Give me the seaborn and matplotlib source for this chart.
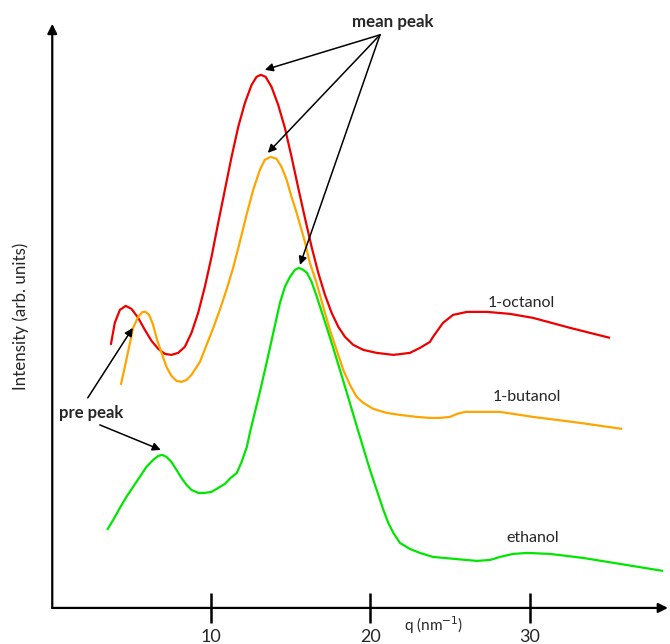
import numpy as np
import pandas as pd
import matplotlib
matplotlib.use("Agg")
import matplotlib.pyplot as plt
import seaborn as sns

# ---- data ----
q_octanol = [3.68, 3.93, 4.25, 4.62, 4.98, 5.40, 5.82, 6.24, 6.66, 7.08, 7.49, 7.91, 8.33,
             8.75, 9.17, 9.59, 10.01, 10.43, 10.85, 11.27, 11.69, 12.11, 12.53, 12.84,
             13.11, 13.41, 13.78, 14.20, 14.62, 15.04, 15.46, 15.88, 16.30, 16.72, 17.14,
             17.56, 17.98, 18.40, 18.92, 19.55, 20.39, 21.44, 22.48, 23.11, 23.74, 23.93,
             24.56, 25.19, 26.07, 27.33, 28.77, 30.22, 32.55, 35.06]
i_octanol = [2.63, 2.85, 2.98, 3.02, 2.99, 2.90, 2.78, 2.67, 2.59, 2.54, 2.53, 2.55, 2.61,
             2.75, 2.95, 3.21, 3.51, 3.85, 4.18, 4.51, 4.81, 5.05, 5.23, 5.31,
             5.33, 5.31, 5.21, 5.03, 4.80, 4.51, 4.20, 3.90, 3.61, 3.35, 3.13,
             2.95, 2.81, 2.71, 2.63, 2.58, 2.55, 2.53, 2.55, 2.60, 2.66, 2.71,
             2.85, 2.93, 2.96, 2.96, 2.94, 2.90, 2.80, 2.70]

q_butanol = [4.31, 4.56, 4.83, 5.08, 5.40, 5.67, 5.86, 6.09, 6.34, 6.59, 6.87, 7.18, 7.49,
             7.81, 8.12, 8.44, 8.75, 9.28, 9.70, 10.12, 10.53, 10.95, 11.37, 11.79, 12.21,
             12.63, 13.05, 13.36, 13.72, 14.10, 14.41, 14.73, 15.04, 15.36, 15.88, 16.19,
             16.61, 17.03, 17.45, 17.87, 18.29, 18.71, 19.13, 19.55, 20.18, 21.02, 21.85,
             22.90, 23.74, 24.37, 25.00, 25.44, 25.94, 26.89, 28.14, 30.22, 33.18, 35.82]
i_butanol = [2.23, 2.41, 2.61, 2.80, 2.91, 2.96, 2.96, 2.93, 2.83, 2.68, 2.55, 2.41, 2.32,
             2.27, 2.26, 2.28, 2.33, 2.46, 2.63, 2.80, 2.98, 3.18, 3.40, 3.66, 3.93,
             4.18, 4.38, 4.48, 4.51, 4.49, 4.41, 4.28, 4.11, 3.95, 3.66, 3.45,
             3.25, 3.01, 2.78, 2.58, 2.38, 2.23, 2.11, 2.05, 1.99, 1.95, 1.93,
             1.91, 1.90, 1.90, 1.91, 1.94, 1.96, 1.96, 1.96, 1.91, 1.85, 1.79]

q_ethanol = [3.45, 3.83, 4.25, 4.66, 5.08, 5.50, 5.92, 6.34, 6.66, 6.91, 7.18, 7.49, 7.81,
             8.12, 8.44, 8.75, 9.17, 9.59, 10.01, 10.43, 10.85, 11.21, 11.60, 11.90, 12.23,
             12.42, 12.74, 13.05, 13.47, 13.89, 14.31, 14.62, 14.94, 15.25, 15.50, 15.77,
             16.01, 16.30, 16.63, 17.14, 17.64, 18.08, 18.61, 19.15, 19.55, 19.97, 20.39,
             20.81, 21.12, 21.44, 21.85, 22.48, 23.11, 23.93, 25.31, 26.70, 27.52, 28.14,
             28.96, 29.84, 31.29, 33.36, 35.69, 38.39]
i_ethanol = [0.78, 0.88, 1.00, 1.11, 1.21, 1.31, 1.41, 1.48, 1.52, 1.53, 1.51, 1.46, 1.38,
             1.30, 1.23, 1.18, 1.15, 1.15, 1.16, 1.20, 1.24, 1.30, 1.35, 1.46, 1.61,
             1.75, 1.96, 2.16, 2.45, 2.75, 3.05, 3.21, 3.31, 3.38, 3.40, 3.38,
             3.35, 3.26, 3.11, 2.86, 2.61, 2.38, 2.10, 1.81, 1.60, 1.38, 1.18,
             0.98, 0.85, 0.75, 0.65, 0.59, 0.55, 0.51, 0.49, 0.47, 0.48, 0.51,
             0.54, 0.55, 0.54, 0.50, 0.44, 0.37]

series_names = ["1-octanol", "1-butanol", "ethanol"]
x_ticks = [10, 20, 30]

df = pd.concat([
    pd.DataFrame({"q": q_octanol, "I": i_octanol, "s": series_names[0]}),
    pd.DataFrame({"q": q_butanol, "I": i_butanol, "s": series_names[1]}),
    pd.DataFrame({"q": q_ethanol, "I": i_ethanol, "s": series_names[2]}),
])

sns.set_style("white")
plt.rcParams["font.family"] = ["Lato", "DejaVu Sans"]
plt.rcParams["lines.solid_joinstyle"] = "round"
plt.rcParams["lines.solid_capstyle"] = "butt"

fig = plt.figure(figsize=(6.70, 6.44), dpi=100)
ax = fig.add_axes([0.078, 0.056, 0.919, 0.907])

palette = {"1-octanol": "#ee0000", "1-butanol": "#ffa500", "ethanol": "#00e600"}
sns.lineplot(data=df, x="q", y="I", hue="s", palette=palette, estimator=None,
             sort=True, linewidth=1.6, legend=False, ax=ax)

ax.set_xlim(0, 38.7)
ax.set_ylim(0, 5.84)
for sp in ax.spines.values():
    sp.set_visible(False)

# axes with arrows
ax.annotate("", xy=(0, 1.0), xytext=(0, 0), xycoords="axes fraction",
            arrowprops=dict(arrowstyle="-|>", color="black", lw=1.6, mutation_scale=14,
                            shrinkA=0, shrinkB=0), annotation_clip=False)
ax.annotate("", xy=(1.0, 0), xytext=(0, 0), xycoords="axes fraction",
            arrowprops=dict(arrowstyle="-|>", color="black", lw=1.6, mutation_scale=14,
                            shrinkA=0, shrinkB=0), annotation_clip=False)

ax.set_xticks(x_ticks)
ax.set_xticklabels([str(t) for t in x_ticks], fontsize=13)
ax.tick_params(axis="x", direction="inout", length=22, width=1.8, color="black", pad=4,
               bottom=True)
ax.set_yticks([])
ax.set_xlabel("")
ax.set_ylabel("Intensity (arb. units)", fontsize=12.2, labelpad=17)
ax.text(24.0, -0.06, r"q (nm$^{-1}$)", fontsize=11, ha="center", va="top")

# series labels
ax.text(29.5, 3.05, "1-octanol", fontsize=11.5, ha="center", va="center")
ax.text(29.8, 2.11, "1-butanol", fontsize=11.5, ha="center", va="center")
ax.text(30.2, 0.70, "ethanol", fontsize=11.5, ha="center", va="center")

# annotations
ax.text(21.4, 5.86, "mean peak", fontsize=12.2, fontweight="bold", ha="center",
        va="center")
arrow_kw = dict(arrowstyle="-|>", color="black", lw=1.1, mutation_scale=12,
                shrinkA=0, shrinkB=0)
for tgt in [(13.36, 5.38), (13.55, 4.55), (15.57, 3.43)]:
    ax.annotate("", xy=tgt, xytext=(20.6, 5.73), arrowprops=arrow_kw)

ax.text(2.42, 1.95, "pre peak", fontsize=12, fontweight="bold", ha="center",
        va="center")
ax.annotate("", xy=(5.06, 2.80), xytext=(2.23, 2.10), arrowprops=arrow_kw)
ax.annotate("", xy=(6.82, 1.58), xytext=(2.99, 1.83), arrowprops=arrow_kw)

fig.savefig("out.png", dpi=100)
